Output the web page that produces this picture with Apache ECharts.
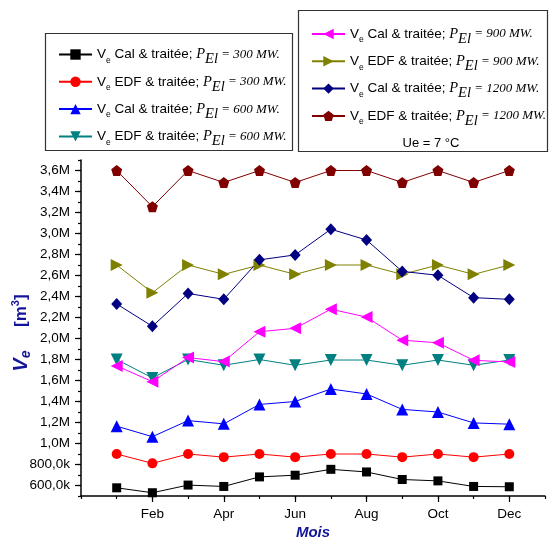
<!DOCTYPE html>
<html><head><meta charset="utf-8">
<script src="https://cdn.jsdelivr.net/npm/echarts@6/dist/echarts.min.js"></script>
<style>html,body{margin:0;padding:0;background:#fff}#c{width:550px;height:545px}</style>
</head><body><div id="c"></div>
<script>
// ---- data ----
const months = ['Jan','Feb','Mar','Apr','May','Jun','Jul','Aug','Sep','Oct','Nov','Dec'];
const xTickValues = [2, 4, 6, 8, 10, 12];
const xTickLabels = ['Feb', 'Apr', 'Jun', 'Aug', 'Oct', 'Dec'];
const yTickValues = [600000, 800000, 1000000, 1200000, 1400000, 1600000, 1800000, 2000000, 2200000, 2400000, 2600000, 2800000, 3000000, 3200000, 3400000, 3600000];
const yTickLabels = ['600,0k', '800,0k', '1,0M', '1,2M', '1,4M', '1,6M', '1,8M', '2,0M', '2,2M', '2,4M', '2,6M', '2,8M', '3,0M', '3,2M', '3,4M', '3,6M'];

const calP300  = [578000, 531000, 604000, 591000, 682000, 698000, 754000, 729000, 657000, 644000, 591000, 588000];
const edfP300  = [900000, 811000, 900000, 870000, 900000, 870000, 900000, 900000, 870000, 900000, 870000, 900000];
const calP600  = [1165000, 1065000, 1218000, 1187000, 1372000, 1400000, 1519000, 1472000, 1325000, 1300000, 1196000, 1184000];
const edfP600  = [1800000, 1625000, 1800000, 1745000, 1800000, 1745000, 1795000, 1795000, 1745000, 1795000, 1745000, 1795000];
const calP900  = [1739000, 1589000, 1818000, 1780000, 2065000, 2097000, 2279000, 2204000, 1984000, 1959000, 1792000, 1777000];
const edfP900  = [2700000, 2436000, 2700000, 2611000, 2700000, 2611000, 2700000, 2700000, 2611000, 2700000, 2611000, 2700000];
const calP1200 = [2329000, 2116000, 2429000, 2373000, 2749000, 2796000, 3041000, 2938000, 2639000, 2602000, 2389000, 2373000];
const edfP1200 = [3600000, 3255000, 3600000, 3486000, 3600000, 3486000, 3600000, 3600000, 3486000, 3600000, 3486000, 3600000];

const seriesKinds  = ['Cal', 'EDF', 'Cal', 'EDF', 'Cal', 'EDF', 'Cal', 'EDF'];
const seriesPowers = ['300', '300', '600', '600', '900', '900', '1200', '1200'];
const seriesValues = [calP300, edfP300, calP600, edfP600, calP900, edfP900, calP1200, edfP1200];

// ---- styles ----
const styles = [
  {color: '#000000', symbol: 'rect', size: 9},
  {color: '#ff0000', symbol: 'circle', size: 10},
  {color: '#0000ff', symbol: 'triangle', size: 12},
  {color: '#008080', symbol: 'path://M0,0L2,0L1,1.8Z', size: 12},
  {color: '#ff00ff', symbol: 'path://M0,1L1.8,0L1.8,2Z', size: 12},
  {color: '#808000', symbol: 'path://M0,0L1.8,1L0,2Z', size: 12},
  {color: '#000080', symbol: 'diamond', size: [11, 12]},
  {color: '#800000', symbol: 'path://M0,-1L0.951,-0.309L0.588,0.809L-0.588,0.809L-0.951,-0.309Z', size: 11}
];

const names = seriesKinds.map((k, i) => k + seriesPowers[i]);

const series = seriesValues.map((vals, i) => ({
  name: names[i],
  type: 'line',
  xAxisIndex: 0,
  yAxisIndex: 0,
  data: vals.map((v, j) => [j + 1, v]),
  symbol: styles[i].symbol,
  symbolSize: styles[i].size,
  showAllSymbol: true,
  lineStyle: {color: styles[i].color, width: 1},
  itemStyle: {color: styles[i].color},
  emphasis: {disabled: true},
  z: 3
}));

const legendRich = {
  v: {fontFamily: 'Liberation Sans', fontSize: 13.5, color: '#000', lineHeight: 16},
  s: {fontFamily: 'Liberation Sans', fontSize: 8.5, color: '#000', lineHeight: 10, padding: [12, 0, 0, 0]},
  p: {fontFamily: 'Liberation Serif', fontStyle: 'italic', fontSize: 14.5, color: '#000', lineHeight: 16},
  ps: {fontFamily: 'Liberation Serif', fontStyle: 'italic', fontSize: 14.5, color: '#000', lineHeight: 14, padding: [10, 0, 0, 0]},
  q: {fontFamily: 'Liberation Serif', fontStyle: 'italic', fontSize: 13, color: '#000', lineHeight: 16}
};
function legendFmt(name) {
  const i = names.indexOf(name);
  return '{v|V}{s|e}{v| ' + seriesKinds[i] + ' & traitée; }{p|P}{ps|El}{q| = ' + seriesPowers[i] + ' MW.}';
}

const axisBlue = '#14149a';

const option = {
  animation: false,
  backgroundColor: '#ffffff',
  grid: {left: 81, top: 160, width: 464, height: 340, containLabel: false},
  xAxis: [
    {
      type: 'value', min: 0, max: 13, interval: 1, position: 'bottom',
      axisLine: {onZero: false, lineStyle: {color: '#000', width: 1.5}},
      axisTick: {show: true, length: 3, lineStyle: {color: '#000', width: 1.2}},
      axisLabel: {show: false},
      splitLine: {show: false},
      name: 'Mois', nameLocation: 'middle', nameGap: 29,
      nameTextStyle: {fontFamily: 'Liberation Sans', fontSize: 15, fontWeight: 'bold', fontStyle: 'italic', color: axisBlue}
    },
    {
      type: 'value', min: 0, max: 13, position: 'bottom', offset: 0,
      axisLine: {show: false, onZero: false},
      axisTick: {show: true, length: 6, customValues: xTickValues, lineStyle: {color: '#000', width: 1.2}},
      axisLabel: {
        show: true, margin: 11, customValues: xTickValues,
        formatter: v => xTickLabels[xTickValues.indexOf(v)] || '',
        fontFamily: 'Liberation Sans', fontSize: 13.5, color: '#000'
      },
      splitLine: {show: false}
    }
  ],
  yAxis: [
    {
      type: 'value', min: 500000, max: 3700000, interval: 100000, position: 'left',
      axisLine: {show: true, onZero: false, lineStyle: {color: '#000', width: 1.5}},
      axisTick: {show: true, length: 3, lineStyle: {color: '#000', width: 1.2}},
      axisLabel: {show: false},
      splitLine: {show: false},
      name: '{b|V}{s|e}{n|     [m}{sup|3}{n|]}',
      nameLocation: 'middle', nameGap: 50, nameRotate: 90,
      nameTextStyle: {
        padding: [0, 10, 0, 0],
        rich: {
          b: {fontFamily: 'Liberation Sans', fontSize: 20, fontWeight: 'bold', fontStyle: 'italic', color: axisBlue, lineHeight: 20},
          s: {fontFamily: 'Liberation Sans', fontSize: 14, fontWeight: 'bold', fontStyle: 'italic', color: axisBlue, lineHeight: 14, padding: [10, 0, 0, 0]},
          n: {fontFamily: 'Liberation Sans', fontSize: 17, fontWeight: 'bold', color: axisBlue, lineHeight: 20},
          sup: {fontFamily: 'Liberation Sans', fontSize: 11, fontWeight: 'bold', color: axisBlue, lineHeight: 11, padding: [0, 0, 11, 0]}
        }
      }
    },
    {
      type: 'value', min: 500000, max: 3700000, position: 'left', offset: 0,
      axisLine: {show: false, onZero: false},
      axisTick: {show: true, length: 6, customValues: yTickValues, lineStyle: {color: '#000', width: 1.2}},
      axisLabel: {
        show: true, margin: 11, customValues: yTickValues,
        formatter: v => yTickLabels[yTickValues.indexOf(v)] || '',
        fontFamily: 'Liberation Sans', fontSize: 13.5, color: '#000'
      },
      splitLine: {show: false}
    }
  ],
  legend: [
    {
      orient: 'vertical', left: 58, top: 42, padding: 0, itemGap: 2.3,
      itemWidth: 33, itemHeight: 13, selectedMode: false,
      data: names.slice(0, 4),
      formatter: legendFmt,
      textStyle: {rich: legendRich}
    },
    {
      orient: 'vertical', left: 311, top: 21.5, padding: 0, itemGap: 2.3,
      itemWidth: 33, itemHeight: 13, selectedMode: false,
      data: names.slice(4, 8),
      formatter: legendFmt,
      textStyle: {rich: legendRich}
    }
  ],
  graphic: [
    {type: 'rect', shape: {x: 45.5, y: 33.5, width: 247, height: 117}, style: {fill: 'none', stroke: '#333', lineWidth: 1.2}, z: 1},
    {type: 'rect', shape: {x: 298.5, y: 10.5, width: 249, height: 141}, style: {fill: 'none', stroke: '#333', lineWidth: 1.2}, z: 1},
    {type: 'text', x: 431, y: 143, style: {text: 'Ue = 7 °C', fontFamily: 'Liberation Sans', fontSize: 13, fill: '#000', textAlign: 'center', textVerticalAlign: 'middle'}, z: 5}
  ],
  series: series
};

const chart = echarts.init(document.getElementById('c'));
chart.setOption(option);
</script>
</body></html>
